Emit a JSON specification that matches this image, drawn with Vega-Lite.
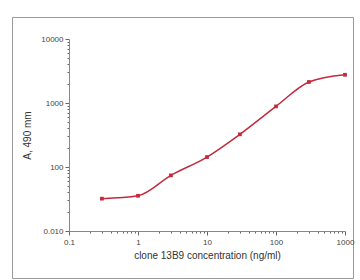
{
  "$schema": "https://vega.github.io/schema/vega-lite/v6.json",
  "autosize": "none",
  "width": 341,
  "height": 261,
  "padding": {"left": 12, "top": 17, "right": 7, "bottom": 2},
  "background": "white",
  "config": {
    "view": {"stroke": "#9a9a9a", "strokeWidth": 1},
    "font": "Liberation Sans"
  },
  "data": {
    "values": [
      {"conc": 0.3, "A": 32},
      {"conc": 1, "A": 35.5},
      {"conc": 3, "A": 74},
      {"conc": 10, "A": 143},
      {"conc": 30, "A": 324},
      {"conc": 100, "A": 885},
      {"conc": 300, "A": 2130},
      {"conc": 1000, "A": 2760}
    ]
  },
  "encoding": {
    "x": {
      "field": "conc",
      "type": "quantitative",
      "scale": {"type": "log", "domain": [0.1, 1000], "range": [57, 333], "nice": false},
      "axis": {
        "orient": "bottom",
        "offset": -47,
        "title": "clone 13B9 concentration (ng/ml)",
        "titleFont": "Liberation Sans",
        "titleFontSize": 10,
        "titleFontWeight": "normal",
        "titleColor": "#333333",
        "titlePadding": 4,
        "values": [0.1,0.2,0.3,0.4,0.5,0.6,0.7,0.8,0.9,1,2,3,4,5,6,7,8,9,10,20,30,40,50,60,70,80,90,100,200,300,400,500,600,700,800,900,1000],
        "labelExpr": "indexof([0.1,1,10,100,1000], datum.value) >= 0 ? '' + datum.value : ''",
        "labelFontSize": 8,
        "labelColor": "#444444",
        "labelOverlap": false,
        "labelFlush": false,
        "labelPadding": 3,
        "tickSize": {"condition": {"test": "indexof([0.1,1,10,100,1000], datum.value) >= 0", "value": 4}, "value": 2},
        "tickColor": "#666666",
        "domainColor": "#888888",
        "grid": false
      }
    },
    "y": {
      "field": "A",
      "type": "quantitative",
      "scale": {"type": "log", "domain": [10, 10000], "range": [214, 22], "nice": false},
      "axis": {
        "orient": "left",
        "offset": -57,
        "title": "A, 490 mm",
        "titleFont": "Liberation Sans",
        "titleFontSize": 10,
        "titleFontWeight": "normal",
        "titleColor": "#333333",
        "titlePadding": 8,
        "values": [10,20,30,40,50,60,70,80,90,100,200,300,400,500,600,700,800,900,1000,2000,3000,4000,5000,6000,7000,8000,9000,10000],
        "labelExpr": "datum.value == 10 ? '0.010' : (indexof([100,1000,10000], datum.value) >= 0 ? '' + datum.value : '')",
        "labelFontSize": 8,
        "labelColor": "#444444",
        "labelOverlap": false,
        "labelFlush": false,
        "labelPadding": 2,
        "tickSize": {"condition": {"test": "indexof([10,100,1000,10000], datum.value) >= 0", "value": 4}, "value": 2},
        "tickColor": "#666666",
        "domainColor": "#888888",
        "grid": false
      }
    }
  },
  "layer": [
    {
      "mark": {"type": "line", "interpolate": "monotone", "color": "#c42a3e", "strokeWidth": 1.5}
    },
    {
      "mark": {"type": "point", "shape": "square", "filled": true, "size": 14, "color": "#c42a3e", "opacity": 1}
    }
  ]
}
